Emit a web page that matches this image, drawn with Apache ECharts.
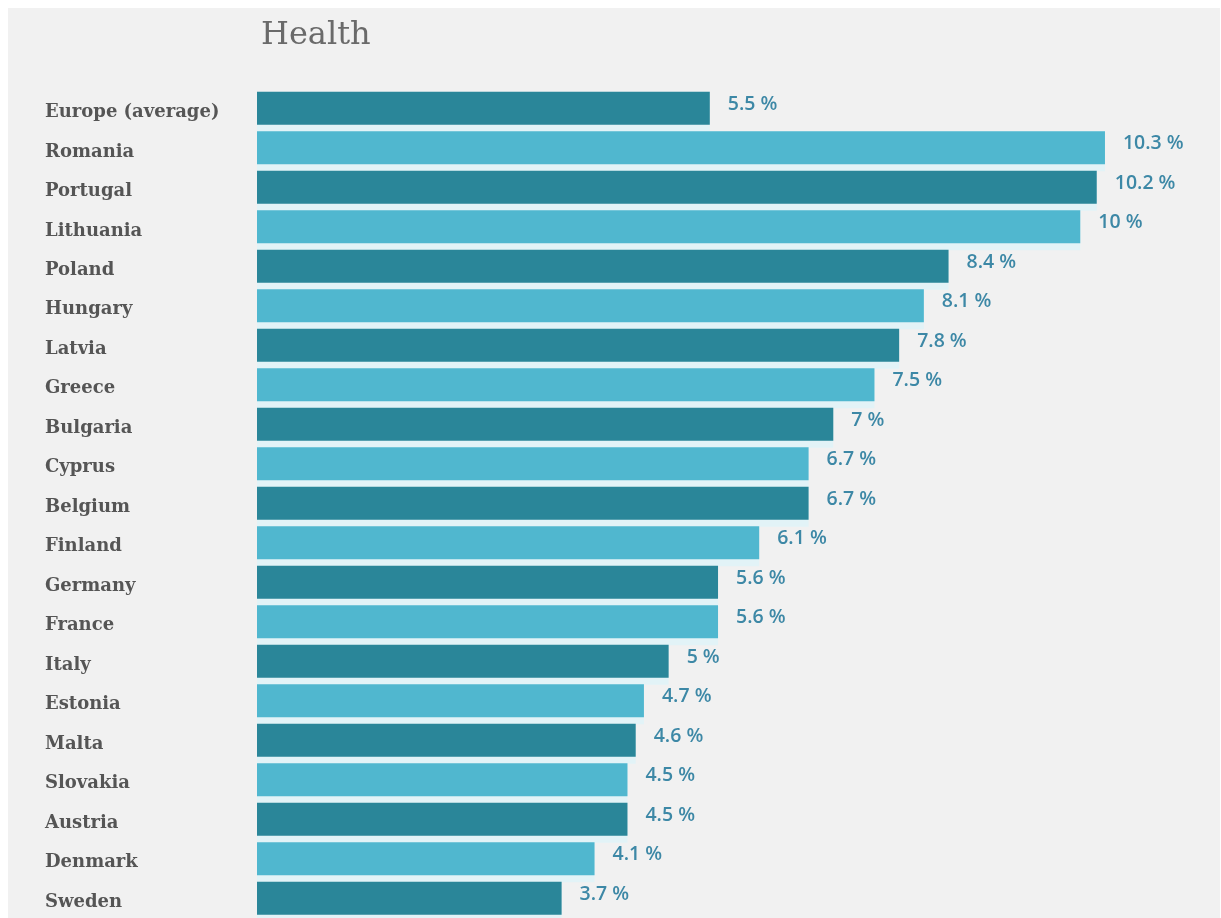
<!DOCTYPE html>
<html>
<head>
<meta charset="utf-8">
<script src="https://cdn.jsdelivr.net/npm/echarts@6/dist/echarts.min.js"></script>
<style>
  html, body { margin: 0; padding: 0; background: #ffffff; }
  #chart { width: 1221px; height: 918px; }
</style>
</head>
<body>
<div id="chart"></div>
<script>
// Health spending share by country (percent)
const countries = [
  'Europe (average)', 'Romania', 'Portugal', 'Lithuania', 'Poland', 'Hungary',
  'Latvia', 'Greece', 'Bulgaria', 'Cyprus', 'Belgium', 'Finland', 'Germany',
  'France', 'Italy', 'Estonia', 'Malta', 'Slovakia', 'Austria', 'Denmark', 'Sweden'
];
const values = [
  5.5, 10.3, 10.2, 10, 8.4, 8.1,
  7.8, 7.5, 7, 6.7, 6.7, 6.1, 5.6,
  5.6, 5, 4.7, 4.6, 4.5, 4.5, 4.1, 3.7
];
const titleText = 'Health';

const DARK = '#2a8699';
const LIGHT = '#50b7cf';
const GAP = '#e2f3f7';

const chart = echarts.init(document.getElementById('chart'), null, { renderer: 'canvas' });

chart.setOption({
  backgroundColor: '#ffffff',
  animation: false,
  graphic: [{
    type: 'rect',
    z: -10,
    silent: true,
    shape: { x: 8, y: 8, width: 1212, height: 920 },
    style: { fill: '#f1f1f1' }
  }],
  title: {
    text: titleText,
    left: 256,
    top: 15,
    textStyle: {
      fontFamily: 'DejaVu Serif',
      fontWeight: 'normal',
      fontSize: 32,
      color: '#6a6a6a'
    }
  },
  grid: {
    left: 257,
    top: 88.6,
    width: 905.6,
    height: 836.8,
    containLabel: false
  },
  xAxis: {
    type: 'value',
    min: 0,
    max: 11,
    show: false
  },
  yAxis: {
    type: 'category',
    inverse: true,
    data: countries,
    axisLine: { show: false },
    axisTick: { show: false },
    axisLabel: {
      align: 'left',
      verticalAlign: 'top',
      lineHeight: 8,
      margin: 212,
      fontFamily: 'DejaVu Serif',
      fontWeight: 'bold',
      fontSize: 18,
      color: '#555555'
    }
  },
  series: [
    {
      // pale halo filling the row band behind each bar
      type: 'bar',
      silent: true,
      data: values,
      barWidth: 40,
      barGap: '-100%',
      itemStyle: { color: GAP },
      z: 1
    },
    {
      type: 'bar',
      data: values.map((v, i) => ({
        value: v,
        itemStyle: { color: i % 2 === 0 ? DARK : LIGHT }
      })),
      barWidth: 33,
      z: 2,
      label: {
        show: true,
        position: 'right',
        distance: 18,
        offset: [0, -4],
        formatter: '{c} %',
        fontFamily: 'Open Sans',
        fontWeight: 600,
        fontSize: 19.5,
        color: '#3d88a6'
      }
    }
  ]
});
</script>
</body>
</html>
